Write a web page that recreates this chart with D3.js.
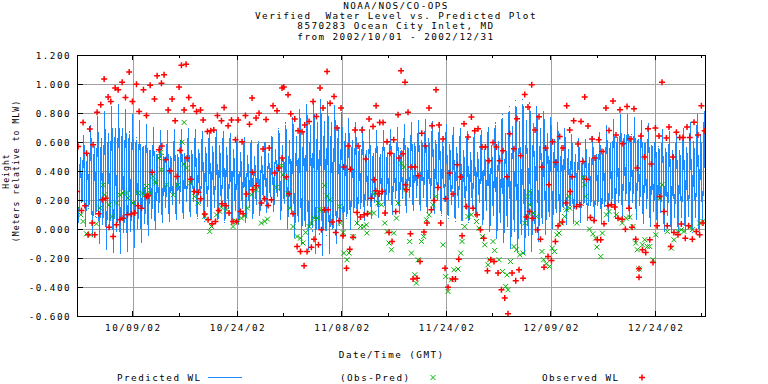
<!DOCTYPE html>
<html><head><meta charset="utf-8">
<script src="https://cdn.jsdelivr.net/npm/d3@7"></script>
<style>
html,body{margin:0;padding:0;background:#fff;}
svg{display:block;}
text{font-family:"DejaVu Sans Mono",monospace;fill:#000;white-space:pre;}
</style></head>
<body><svg id="chart" width="768" height="384"></svg>
<script>
// ---------- DATA ----------
const titleLines = ["NOAA/NOS/CO-OPS","Verified  Water Level vs. Predicted Plot","8570283 Ocean City Inlet, MD","from 2002/10/01 - 2002/12/31"];
const yTicks = [-0.6,-0.4,-0.2,0.0,0.2,0.4,0.6,0.8,1.0,1.2];
const xTickDays = [8,23,38,53,68,83];
const xTickLabels = ["10/09/02","10/24/02","11/08/02","11/24/02","12/09/02","12/24/02"];
const xMinorDays = [14.67,29.67,44.67,59.67,74.67,89.67];
// Predicted tide: daily higher high, lower low, lower high, higher low (m, days from 2002/10/01)
const predHH = [0.60,0.65,0.72,0.78,0.82,0.85,0.86,0.83,0.79,0.75,0.72,0.70,0.68,0.68,0.69,0.69,0.70,0.69,0.68,0.69,0.69,0.68,0.67,0.65,0.64,0.62,0.61,0.62,0.66,0.70,0.74,0.78,0.83,0.87,0.89,0.90,0.89,0.86,0.81,0.77,0.74,0.71,0.69,0.68,0.68,0.69,0.70,0.72,0.74,0.75,0.76,0.75,0.74,0.73,0.71,0.70,0.68,0.68,0.69,0.71,0.74,0.80,0.85,0.89,0.90,0.88,0.85,0.82,0.78,0.74,0.70,0.66,0.63,0.62,0.64,0.67,0.72,0.76,0.79,0.79,0.77,0.75,0.73,0.71,0.69,0.68,0.68,0.70,0.74,0.80,0.82];
const predLH = [0.50,0.52,0.58,0.63,0.67,0.70,0.70,0.68,0.64,0.60,0.57,0.54,0.52,0.51,0.52,0.53,0.55,0.56,0.57,0.58,0.58,0.57,0.55,0.53,0.51,0.50,0.50,0.52,0.55,0.58,0.61,0.64,0.68,0.72,0.74,0.75,0.74,0.71,0.67,0.62,0.58,0.55,0.53,0.52,0.52,0.54,0.56,0.58,0.60,0.62,0.63,0.62,0.61,0.59,0.57,0.55,0.53,0.53,0.55,0.58,0.61,0.66,0.71,0.74,0.75,0.73,0.70,0.66,0.62,0.58,0.55,0.52,0.50,0.50,0.52,0.56,0.60,0.64,0.66,0.66,0.64,0.62,0.60,0.58,0.56,0.55,0.55,0.57,0.61,0.66,0.68];
const predLL = [0.05,0.02,-0.05,-0.10,-0.14,-0.16,-0.17,-0.16,-0.13,-0.10,-0.05,-0.01,0.04,0.05,0.06,0.07,0.08,0.07,0.05,0.04,0.04,0.04,0.03,0.03,0.04,0.07,0.09,0.11,0.12,0.06,0.00,-0.06,-0.10,-0.14,-0.17,-0.18,-0.17,-0.10,-0.05,0.00,0.03,0.06,0.07,0.08,0.09,0.10,0.10,0.11,0.12,0.12,0.11,0.10,0.09,0.07,0.05,0.03,0.04,0.08,0.03,-0.02,-0.07,-0.10,-0.14,-0.17,-0.18,-0.16,-0.09,-0.04,0.00,0.02,0.03,0.04,0.05,0.06,0.05,0.04,0.05,0.07,0.08,0.07,0.06,0.03,0.01,0.00,-0.02,-0.03,-0.03,-0.02,-0.03,-0.04,-0.03];
const predHL = [0.17,0.14,0.08,0.03,0.00,-0.02,-0.03,-0.02,0.00,0.03,0.07,0.11,0.15,0.17,0.18,0.19,0.19,0.18,0.16,0.15,0.15,0.14,0.13,0.14,0.15,0.17,0.20,0.22,0.22,0.17,0.11,0.05,0.01,-0.02,-0.04,-0.05,-0.03,0.02,0.07,0.11,0.14,0.16,0.18,0.19,0.20,0.21,0.21,0.22,0.22,0.22,0.21,0.20,0.19,0.17,0.15,0.14,0.15,0.18,0.13,0.09,0.04,0.01,-0.02,-0.04,-0.05,-0.03,0.03,0.08,0.11,0.13,0.14,0.15,0.16,0.16,0.16,0.15,0.16,0.18,0.19,0.18,0.16,0.14,0.12,0.11,0.09,0.08,0.08,0.09,0.08,0.07,0.08];
// Observed water level [day, metres]
const observed = [[0.04,0.261],[0.19,0.571],[0.67,0.13],[0.9,0.737],[1.19,0.162],[1.39,0.525],[1.62,-0.038],[1.86,0.691],[2.2,0.043],[2.34,0.583],[2.58,-0.038],[2.91,0.808],[3.15,0.107],[3.44,0.859],[3.63,0.203],[3.92,1.036],[4.16,0.215],[4.49,0.912],[4.63,0.015],[4.88,0.881],[5.21,-0.05],[5.5,0.974],[5.69,0.031],[5.93,0.962],[6.17,0.066],[6.5,1.015],[6.64,0.077],[6.98,0.909],[7.27,0.1],[7.51,1.084],[7.84,0.105],[7.98,0.881],[8.32,0.112],[8.56,1.001],[8.79,0.162],[8.94,0.812],[9.28,0.146],[9.56,0.962],[9.99,0.226],[9.99,0.785],[10.23,0.231],[10.52,0.994],[10.8,0.394],[11.14,0.898],[11.52,1.059],[11.8,0.548],[12.14,1.008],[12.2,0.574],[12.52,1.066],[12.76,0.479],[13.1,0.822],[13.34,0.403],[13.67,0.898],[14.1,0.748],[14.39,0.364],[14.67,0.981],[14.82,0.543],[15.01,1.132],[15.39,0.822],[15.68,1.139],[15.82,0.491],[16.06,0.909],[16.39,0.346],[16.68,0.852],[16.85,0.261],[17.17,0.812],[17.45,0.255],[17.74,0.822],[17.78,0.21],[18.12,0.753],[18.36,0.105],[18.74,0.674],[18.83,0.066],[19.22,0.679],[19.4,0.038],[19.65,0.684],[19.89,0.054],[20.17,0.785],[20.36,0.13],[20.75,0.748],[20.84,0.176],[21.13,0.84],[21.41,0.162],[21.7,0.714],[21.84,0.112],[22.19,0.753],[22.41,0.054],[22.76,0.617],[22.9,0.054],[23.14,0.753],[23.47,0.123],[23.71,0.603],[23.85,0.107],[24.19,0.785],[24.33,0.243],[24.77,0.725],[25.14,0.905],[25.19,0.272],[25.2,0.394],[25.71,0.767],[25.77,0.3],[26.14,0.801],[26.48,0.181],[26.72,0.553],[26.96,0.21],[27.15,0.757],[27.44,0.164],[27.6,0.56],[27.92,0.203],[28.15,0.852],[28.4,0.388],[28.72,0.817],[28.97,0.422],[29.44,0.974],[29.44,0.491],[29.69,0.981],[30.07,0.36],[30.3,0.928],[30.45,0.245],[30.69,0.797],[31.02,0.107],[31.26,0.76],[31.6,-0.119],[31.74,0.679],[32.08,-0.153],[32.31,0.672],[32.6,-0.252],[32.7,0.719],[33.03,-0.153],[33.32,0.743],[33.65,-0.123],[33.89,0.881],[34.03,-0.068],[34.37,0.778],[34.66,-0.107],[34.89,0.974],[35.09,-0.003],[35.32,0.836],[35.57,0.134],[35.9,1.088],[36.04,0.134],[36.33,0.87],[36.61,0.05],[36.9,0.916],[37.14,-0.022],[37.33,0.698],[37.62,0.059],[37.9,0.836],[38.19,-0.045],[38.29,0.429],[38.68,-0.268],[38.91,0.574],[39.15,-0.137],[39.29,0.415],[39.63,-0.054],[39.91,0.684],[40.2,0.116],[40.34,0.574],[40.69,0.084],[40.91,0.684],[41.2,0.1],[41.44,0.484],[41.69,0.107],[41.92,0.76],[42.26,0.215],[42.49,0.709],[42.64,0.341],[42.88,0.266],[42.93,0.852],[43.35,0.245],[43.45,0.737],[43.84,0.261],[43.93,0.737],[44.21,0.112],[44.5,0.603],[44.79,-0.022],[44.93,0.525],[45.22,-0.084],[45.46,0.617],[45.75,0.123],[46.08,0.79],[46.22,0.491],[46.51,1.093],[46.79,0.521],[47.08,1.015],[47.14,0.307],[47.28,0.272],[47.51,0.808],[47.85,-0.031],[47.94,0.429],[48.23,-0.343],[48.52,0.429],[48.8,-0.337],[48.95,0.369],[49.23,-0.222],[49.48,0.663],[49.8,-0.019],[50.01,0.574],[50.23,0.043],[50.52,0.836],[50.86,0.134],[50.95,0.714],[51.24,0.199],[51.53,0.962],[51.82,0.288],[51.96,0.719],[52.2,0.043],[52.53,0.622],[52.82,-0.268],[52.92,0.21],[53.25,-0.399],[53.49,0.388],[53.88,-0.343],[53.97,0.243],[54.31,-0.343],[54.6,0.445],[54.79,-0.206],[55.07,0.36],[55.26,-0.045],[55.54,0.728],[55.9,0.157],[56.11,0.636],[56.6,0.774],[56.84,0.146],[57.08,0.679],[57.41,0.1],[57.55,0.693],[57.89,-0.003],[58.12,0.567],[58.37,-0.061],[58.61,0.567],[58.9,-0.286],[59.13,0.472],[59.37,-0.21],[59.7,0.599],[59.85,-0.222],[60.19,0.567],[60.42,-0.302],[60.66,0.472],[60.91,-0.417],[61.14,0.541],[61.38,-0.474],[61.71,0.362],[61.85,-0.583],[62.1,0.659],[62.43,-0.302],[62.71,0.555],[62.96,-0.355],[63.14,0.762],[63.43,-0.279],[63.67,0.507],[64.01,-0.337],[64.25,0.93],[64.49,0.084],[64.72,0.843],[64.96,0.123],[65.25,0.997],[65.44,0.077],[65.73,0.684],[66.07,-0.003],[66.3,0.776],[66.5,-0.068],[66.69,0.429],[67.02,-0.261],[67.26,0.56],[67.59,-0.188],[67.69,0.307],[68.08,-0.215],[68.26,0.603],[68.65,-0.084],[68.69,0.463],[69.03,0.024],[69.27,0.64],[69.66,0.05],[69.74,0.56],[70.13,0.181],[70.27,0.852],[70.7,0.684],[70.8,0.26],[71.03,0.362],[71.27,0.748],[71.66,0.157],[71.89,0.588],[72.13,0.169],[72.32,0.743],[72.61,0.468],[72.85,0.912],[73.1,0.346],[73.32,0.712],[73.67,0.081],[73.9,0.622],[74.19,0.061],[74.33,0.491],[74.67,-0.072],[74.86,0.617],[75.15,-0.072],[75.33,0.537],[75.62,0.038],[75.9,0.836],[76.2,0.162],[76.34,0.681],[76.68,0.169],[76.91,0.884],[77.16,0.153],[77.34,0.65],[77.63,0.077],[77.91,0.824],[78.21,0.07],[78.34,0.59],[78.69,0.001],[78.92,0.847],[79.21,0.146],[79.35,0.622],[79.64,0.015],[79.92,0.831],[80.17,-0.068],[80.4,0.422],[80.64,-0.272],[80.64,-0.33],[80.92,0.643],[81.13,-0.141],[81.41,0.498],[81.6,-0.16],[81.93,0.693],[82.18,-0.072],[82.41,0.45],[82.65,-0.229],[82.99,0.698],[83.22,0.024],[83.51,0.643],[83.6,0.226],[83.94,1.015],[84.22,0.123],[84.57,0.629],[84.7,0.024],[84.94,0.705],[85.18,-0.119],[85.52,0.498],[85.65,-0.022],[86.0,0.67],[86.23,-0.038],[86.48,0.633],[86.71,0.036],[86.95,0.633],[87.28,-0.061],[87.53,0.705],[87.76,0.024],[87.92,0.633],[88.29,-0.068],[88.53,0.739],[88.86,-0.015],[89.1,0.65],[89.34,-0.038],[89.59,0.852],[89.82,0.043],[90.05,0.679]];
// Residual (Obs-Pred) [day, metres]
const residual = [[0.04,0.139],[0.57,0.1],[0.9,0.054],[1.39,-0.031],[1.96,-0.038],[2.82,0.038],[3.3,0.146],[3.78,0.307],[3.97,0.238],[4.63,0.169],[5.06,0.088],[5.69,0.181],[6.17,0.238],[6.64,0.25],[7.12,0.25],[7.36,0.215],[8.07,0.181],[8.79,0.25],[9.42,0.25],[9.75,0.238],[9.99,0.295],[10.47,0.25],[10.94,0.364],[11.23,0.33],[11.33,0.319],[11.8,0.491],[12.05,0.53],[12.14,0.41],[12.86,0.307],[13.81,0.238],[14.53,0.307],[15.1,0.601],[15.39,0.737],[15.39,0.45],[15.73,0.422],[16.3,0.319],[16.92,0.226],[17.4,0.181],[18.36,0.088],[19.07,-0.015],[19.32,0.019],[20.04,0.1],[20.51,0.123],[20.75,0.153],[21.47,0.134],[22.41,0.019],[22.9,0.054],[23.62,0.077],[24.09,0.093],[24.48,0.146],[25.05,0.238],[25.77,0.272],[26.48,0.043],[26.96,0.054],[27.35,0.07],[28.64,0.29],[29.36,0.438],[29.59,0.376],[29.97,0.353],[30.3,0.245],[30.55,0.146],[31.02,0.019],[31.6,-0.05],[32.08,-0.061],[32.45,-0.095],[32.84,-0.022],[33.32,0.019],[33.65,0.043],[34.03,0.077],[34.46,0.077],[34.85,0.134],[35.32,0.134],[35.57,0.302],[35.9,0.231],[36.28,0.203],[37.72,0.157],[37.81,0.043],[38.19,-0.022],[38.29,-0.164],[38.76,-0.21],[39.05,-0.164],[39.63,-0.05],[40.2,0.043],[40.69,0.019],[41.16,0.019],[41.54,0.031],[41.6,-0.026],[42.02,0.112],[42.59,0.112],[42.64,0.245],[43.21,0.181],[43.7,0.169],[44.17,0.043],[44.5,-0.015],[44.79,-0.095],[45.13,-0.141],[45.46,-0.026],[45.85,0.077],[46.08,0.181],[46.56,0.456],[46.9,0.429],[47.18,0.272],[47.75,-0.084],[48.0,-0.164],[48.47,-0.314],[48.71,-0.371],[48.95,-0.21],[49.43,-0.084],[49.76,-0.05],[50.15,0.066],[50.52,0.1],[51.09,0.169],[51.48,0.226],[52.53,-0.107],[52.92,-0.326],[53.25,-0.429],[53.73,-0.348],[54.11,-0.279],[54.68,-0.274],[55.07,-0.164],[55.26,-0.084],[55.65,0.019],[56.11,0.088],[56.6,0.1],[57.32,0.054],[57.69,0.008],[58.18,-0.05],[58.51,-0.107],[58.98,-0.245],[59.22,-0.21],[59.7,-0.084],[59.94,-0.146],[60.56,-0.21],[61.05,-0.291],[61.52,-0.394],[61.71,-0.314],[61.85,-0.417],[62.2,-0.222],[62.71,-0.119],[63.06,-0.141],[63.53,-0.176],[64.01,-0.164],[64.25,0.043],[64.63,0.088],[64.72,0.226],[64.96,0.169],[64.96,0.261],[65.44,0.112],[65.92,0.088],[66.72,-0.153],[66.96,-0.21],[67.35,-0.238],[67.82,-0.256],[68.21,-0.13],[68.54,-0.153],[68.88,-0.038],[69.17,-0.026],[69.51,0.043],[69.98,0.088],[70.22,0.134],[70.6,0.226],[70.7,0.146],[71.72,0.043],[72.71,0.357],[72.85,0.307],[73.0,0.226],[73.54,0.001],[74.02,-0.031],[74.41,-0.061],[74.6,-0.123],[75.15,-0.188],[75.39,-0.026],[75.97,0.1],[76.34,0.123],[77.39,0.1],[78.25,0.043],[78.82,0.077],[79.3,0.084],[79.78,0.019],[80.17,-0.095],[80.4,-0.141],[80.64,-0.274],[81.13,-0.107],[81.46,-0.072],[81.84,-0.119],[82.18,-0.119],[82.65,-0.21],[83.04,-0.038],[83.6,0.215],[83.94,0.307],[84.7,-0.015],[85.28,-0.13],[85.65,-0.072],[86.23,-0.015],[86.71,-0.003],[87.09,-0.015],[87.92,0.015],[88.29,-0.003],[89.34,0.043],[89.82,0.054]];
const legendLabels = ["Predicted WL","(Obs-Pred)","Observed WL"];
const xAxisTitle = "Date/Time (GMT)";
const yAxisTitle = ["Height","(Meters relative to MLW)"];

// ---------- CHART ----------
const svg = d3.select("#chart");
const L = 77.5, R = 705.3, T = 55.3, B = 316.3;
const x = d3.scaleLinear().domain([0.1, 90.15]).range([L, R]);
const y = d3.scaleLinear().domain([-0.6, 1.2]).range([B, T]);
const BIG = {size: "9.3px", ls: "1.45px"};
const SMALL = {size: "8.2px", ls: "1.0px"};
const colPred = "#1a8cff", colRes = "#00b000", colObs = "#ff0000";

function txt(g, s, xx, yy, anchor, f) {
  f = f || BIG;
  return g.append("text").attr("x", xx).attr("y", yy).attr("text-anchor", anchor || "start")
    .style("font-size", f.size).style("letter-spacing", f.ls).text(s);
}

// Title
titleLines.forEach((t, i) => txt(svg, t, 396, 9 + i * 10.2, "middle"));

// Grid
const grid = svg.append("g").attr("stroke", "#a0a0a0").attr("stroke-width", 1).attr("shape-rendering", "crispEdges");
grid.selectAll("line.h").data(yTicks.filter(v => v > -0.6 && v < 1.2)).join("line")
  .attr("x1", L).attr("x2", R).attr("y1", d => Math.round(y(d)) + 0.5).attr("y2", d => Math.round(y(d)) + 0.5);
grid.selectAll("line.v").data(xTickDays).join("line")
  .attr("y1", T).attr("y2", B).attr("x1", d => Math.round(x(d)) + 0.5).attr("x2", d => Math.round(x(d)) + 0.5);

// Clip
svg.append("clipPath").attr("id", "clip").append("rect").attr("x", L).attr("y", T).attr("width", R - L).attr("height", B - T);

// Predicted line: four extremes per day (HH, LL, LH, HL)
const predPts = [];
predHH.forEach((v, d) => {
  predPts.push([d, v], [d + 0.25, predLL[d]], [d + 0.5, predLH[d]], [d + 0.75, predHL[d]]);
});
svg.append("path").datum(predPts)
  .attr("clip-path", "url(#clip)")
  .attr("fill", "none").attr("stroke", colPred).attr("stroke-width", 1.15)
  .attr("shape-rendering", "crispEdges")
  .attr("d", d3.line().x(d => x(d[0])).y(d => y(d[1])).curve(d3.curveMonotoneX));

// Residual x markers
const xMark = (s) => `M${-s},${-s}L${s},${s}M${-s},${s}L${s},${-s}`;
const plusMark = (s) => `M${-s},0L${s},0M0,${-s}L0,${s}`;
svg.append("g").attr("clip-path", "url(#clip)").selectAll("path").data(residual).join("path")
  .attr("transform", d => `translate(${x(d[0])},${y(d[1])})`)
  .attr("d", xMark(2.5)).attr("stroke", colRes).attr("stroke-width", 1).attr("fill", "none");
svg.append("g").attr("clip-path", "url(#clip)").selectAll("path").data(observed).join("path")
  .attr("transform", d => `translate(${x(d[0])},${y(d[1])})`)
  .attr("d", plusMark(3)).attr("stroke", colObs).attr("stroke-width", 1.5).attr("fill", "none");

// Axes box and ticks
const ax = svg.append("g").attr("stroke", "#000").attr("shape-rendering", "crispEdges");
ax.append("rect").attr("x", L).attr("y", T).attr("width", R - L).attr("height", B - T).attr("fill", "none").attr("stroke-width", 1.2);
yTicks.forEach(v => { ax.append("line").attr("x1", L).attr("x2", L + 5).attr("y1", y(v)).attr("y2", y(v)); });
xTickDays.forEach(d => {
  ax.append("line").attr("x1", x(d)).attr("x2", x(d)).attr("y1", B).attr("y2", B - 5);
  ax.append("line").attr("x1", x(d)).attr("x2", x(d)).attr("y1", T).attr("y2", T + 5);
});
xMinorDays.forEach(d => {
  ax.append("line").attr("x1", x(d)).attr("x2", x(d)).attr("y1", B).attr("y2", B - 3);
  ax.append("line").attr("x1", x(d)).attr("x2", x(d)).attr("y1", T).attr("y2", T + 3);
});

// Tick labels
yTicks.forEach(v => txt(svg, v.toFixed(3), 71, y(v) + 3.5, "end"));
xTickDays.forEach((d, i) => txt(svg, xTickLabels[i], x(d) + 0.7, 331, "middle"));

// Axis titles
txt(svg, xAxisTitle, 391.7, 358, "middle");
yAxisTitle.forEach((t, i) => txt(svg, t, 0, 0, "middle", SMALL).attr("transform", `translate(${8.5 + i * 10.2},171) rotate(-90)`));

// Legend
const lg = svg.append("g");
txt(lg, legendLabels[0], 117, 381);
lg.append("line").attr("x1", 208).attr("x2", 242).attr("y1", 377.5).attr("y2", 377.5).attr("stroke", colPred).attr("stroke-width", 1);
txt(lg, legendLabels[1], 340, 381);
lg.append("path").attr("transform", "translate(433,377.5)").attr("d", xMark(2.5)).attr("stroke", colRes).attr("fill", "none");
txt(lg, legendLabels[2], 542, 381);
lg.append("path").attr("transform", "translate(642,377.5)").attr("d", plusMark(3)).attr("stroke", colObs).attr("stroke-width", 1.5).attr("fill", "none");
</script></body></html>
